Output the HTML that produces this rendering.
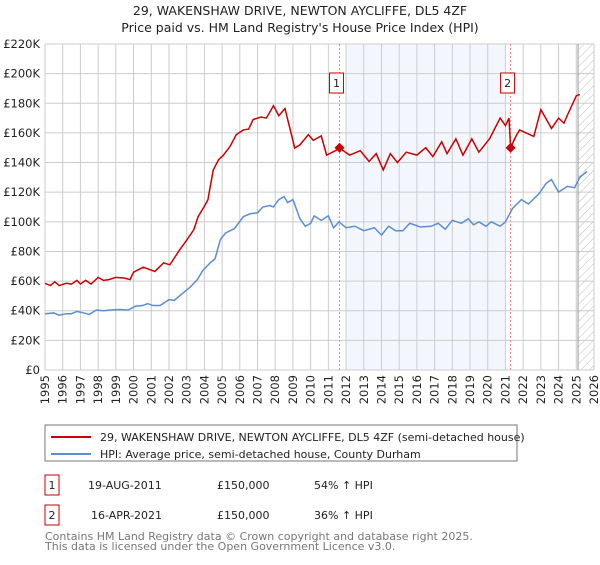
<!DOCTYPE html>
<html><head><meta charset="utf-8"><style>
body{margin:0;background:#fff;font-family:"Liberation Sans","DejaVu Sans",sans-serif;}
svg text{font-family:"DejaVu Sans","Liberation Sans",sans-serif;}
</style></head><body>
<svg id="c" width="600" height="560" xmlns="http://www.w3.org/2000/svg">
<defs><pattern id="hatch" width="6" height="6" patternUnits="userSpaceOnUse" patternTransform="rotate(45)"><line x1="0" y1="0" x2="0" y2="6" stroke="#bbb" stroke-width="1"/></pattern></defs>
<text x="300" y="15" text-anchor="middle" font-size="12.5" fill="#222">29, WAKENSHAW DRIVE, NEWTON AYCLIFFE, DL5 4ZF</text>
<text x="300" y="32" text-anchor="middle" font-size="12.5" fill="#222">Price paid vs. HM Land Registry's House Price Index (HPI)</text>
<g id="grid"></g><g id="marks"></g>
<g>
<rect x="45" y="425" width="472" height="36" fill="#fff" stroke="#777"/>
<line x1="51" y1="437" x2="91" y2="437" stroke="#cc0000" stroke-width="2"/>
<text x="100" y="441" font-size="11" fill="#222">29, WAKENSHAW DRIVE, NEWTON AYCLIFFE, DL5 4ZF (semi-detached house)</text>
<line x1="51" y1="454" x2="91" y2="454" stroke="#5b8fd1" stroke-width="2"/>
<text x="100" y="458" font-size="11" fill="#222">HPI: Average price, semi-detached house, County Durham</text>
</g>
<g font-size="11" fill="#222">
<rect x="45" y="475" width="14" height="20" fill="#fff" stroke="#cc0000"/><text x="52" y="489" text-anchor="middle">1</text>
<text x="88" y="489">19-AUG-2011</text><text x="217" y="489">£150,000</text><text x="314" y="489">54% ↑ HPI</text>
<rect x="45" y="505" width="14" height="20" fill="#fff" stroke="#cc0000"/><text x="52" y="519" text-anchor="middle">2</text>
<text x="91" y="519">16-APR-2021</text><text x="217" y="519">£150,000</text><text x="314" y="519">36% ↑ HPI</text>
</g>
<text x="45" y="540" font-size="11" fill="#777">Contains HM Land Registry data © Crown copyright and database right 2025.</text>
<text x="45" y="550" font-size="11" fill="#777">This data is licensed under the Open Government Licence v3.0.</text>
</svg>
<script>
const yTicks=[0,20,40,60,80,100,120,140,160,180,200,220];
const years=[1995,1996,1997,1998,1999,2000,2001,2002,2003,2004,2005,2006,2007,2008,2009,2010,2011,2012,2013,2014,2015,2016,2017,2018,2019,2020,2021,2022,2023,2024,2025,2026];
const hpiT=[1995,1995.5,1995.8,1996.2,1996.5,1996.8,1997.2,1997.5,1997.9,1998.3,1998.7,1999.2,1999.7,2000.1,2000.5,2000.8,2001.1,2001.5,2002.0,2002.3,2002.7,2003.2,2003.6,2003.9,2004.3,2004.6,2004.9,2005.2,2005.7,2006.2,2006.6,2007.0,2007.3,2007.7,2007.9,2008.2,2008.5,2008.7,2009.0,2009.4,2009.7,2010.0,2010.2,2010.6,2011.0,2011.3,2011.6,2012.0,2012.5,2013.0,2013.6,2014.0,2014.4,2014.8,2015.2,2015.6,2016.2,2016.8,2017.2,2017.6,2018.0,2018.5,2018.9,2019.2,2019.5,2019.9,2020.2,2020.7,2021.0,2021.4,2021.9,2022.3,2022.9,2023.3,2023.6,2024.0,2024.5,2024.9,2025.2,2025.6];
const hpiV=[38,38.5,37,38,38,39.5,38.5,37.5,40.5,40,40.5,40.8,40.5,43,43.5,44.8,43.5,43.5,47.5,47,51,56,61,67,72,75,88,92.5,95.5,103.5,105.5,106,110,111,110,115,117,113,115,102,97,99,104,101,104,96,100,96,97,94,96,91,97,94,94,99,96.5,97,99,95,101,99,102,98,100,97,100,97,100,109,115,112,119,126,128.5,120,124,123,130,134];
const priceT=[1995,1995.3,1995.55,1995.8,1996.2,1996.5,1996.8,1997.0,1997.3,1997.6,1998.0,1998.3,1998.6,1999.0,1999.5,1999.8,2000.0,2000.55,2001.2,2001.7,2002.05,2002.6,2003.0,2003.4,2003.65,2004.05,2004.2,2004.5,2004.8,2005.05,2005.45,2005.8,2006.2,2006.5,2006.75,2007.2,2007.5,2007.9,2008.2,2008.55,2008.85,2009.1,2009.4,2009.87,2010.15,2010.6,2010.9,2011.4,2011.63,2012.2,2012.8,2013.3,2013.7,2014.1,2014.5,2014.9,2015.4,2016.0,2016.5,2016.9,2017.4,2017.7,2018.2,2018.6,2019.1,2019.5,2020.1,2020.7,2021.0,2021.2,2021.29,2021.6,2021.8,2022.6,2023.0,2023.6,2024.0,2024.3,2024.5,2025.0,2025.2];
const priceV=[58.5,57,59.5,57,58.5,58,60.5,58,60.5,58,62.5,60.5,61,62.5,62,61,66,69.4,66.5,72.3,71,81,87.6,94.6,103.6,111.5,115,135,141.9,144.6,150.9,158.8,162,162.6,169,170.7,170,178.4,171.6,176.4,162,149.8,152,158.8,155,158,145,148,149.8,145,148,140.7,146,135,146,140,147,145,150,144,154,146,156,145,156,147,156,170,165,170,150,158,162,157.6,175.7,163,170,166.6,172,185,186];
const sales=[[2011.63,150],[2021.29,150]];
const L=45,R=594,T=44,B=370;
const X=y=>L+(y-1995)/31*(R-L);
const Y=v=>B-v/220*(B-T);
const NS='http://www.w3.org/2000/svg';
function mk(tag,attrs,parent){const e=document.createElementNS(NS,tag);for(const k in attrs)e.setAttribute(k,attrs[k]);parent.appendChild(e);return e;}
const g=document.getElementById('grid'),m=document.getElementById('marks');
const sh=mk('rect',{x:X(2012),y:T,width:X(2021)-X(2012),height:B-T,fill:'#eef3fc',opacity:0.7},g);


const ht=mk('rect',{x:X(2025.1),y:T,width:R-X(2025.1),height:B-T,fill:'url(#hatch)'},g);


yTicks.forEach(v=>{mk('line',{x1:L,x2:R,y1:Y(v),y2:Y(v),stroke:'#ccc'},g);
const t=mk('text',{x:40,y:Y(v)+4,'text-anchor':'end','font-size':'11.5',fill:'#222'},g);t.textContent='£'+(v?v+'K':'0');

});
years.forEach(yr=>{mk('line',{x1:X(yr),x2:X(yr),y1:T,y2:B,stroke:'#ccc'},g);
const t=mk('text',{x:0,y:0,transform:`translate(${X(yr)+4},${B+5}) rotate(-90)`,'text-anchor':'end','font-size':'11.5',fill:'#222'},g);t.textContent=yr;

});
mk('line',{x1:X(2025.1),x2:X(2025.1),y1:T,y2:B,stroke:'#999'},g);
sales.forEach((s,i)=>{const l=mk('line',{x1:X(s[0]),x2:X(s[0]),y1:T,y2:B,stroke:'#e88','stroke-dasharray':'2,2'},g);

});
const hp=mk('polyline',{points:hpiT.map((t,i)=>X(t)+','+Y(hpiV[i])).join(' '),fill:'none',stroke:'#5b8fd1','stroke-width':1.5},m);


const pp=mk('polyline',{points:priceT.map((t,i)=>X(t)+','+Y(priceV[i])).join(' '),fill:'none',stroke:'#cc0000','stroke-width':1.5},m);


sales.forEach((s,i)=>{const x=X(s[0]),y=Y(s[1]);
const d=mk('polygon',{points:`${x},${y-5} ${x+5},${y} ${x},${y+5} ${x-5},${y}`,fill:'#cc0000'},m);


const bx=mk('rect',{x:x-10,y:73,width:14,height:20,fill:'#fff',stroke:'#cc0000'},m);


const t=mk('text',{x:x-3,y:87,'text-anchor':'middle','font-size':'11',fill:'#222'},m);t.textContent=i+1;

});
</script>
</body></html>
